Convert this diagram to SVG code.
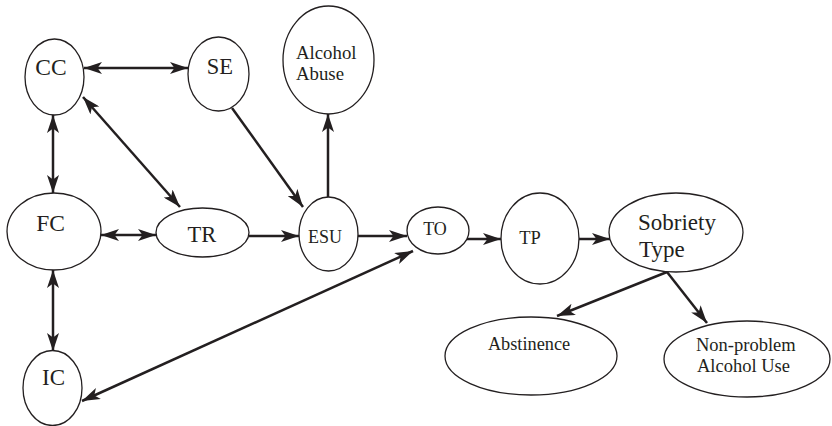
<svg xmlns="http://www.w3.org/2000/svg" width="832" height="426" viewBox="0 0 832 426">
<style>
.n{fill:#fff;stroke:#231f20;stroke-width:1.3}
text{fill:#231f20}
.e{stroke:#231f20;stroke-width:2.5;fill:none;marker-end:url(#ah)}
.b{marker-start:url(#ah)}
</style>
<defs>
<marker id="ah" markerUnits="userSpaceOnUse" markerWidth="19" markerHeight="12" refX="18" refY="6" orient="auto-start-reverse" viewBox="0 0 19 12">
<path d="M0,0 L18,6 L0,12 L4.5,6 z" fill="#231f20"/>
</marker>
</defs>
<rect width="832" height="426" fill="#fff"/>
<g id="edges">
<line class="e b" x1="84" y1="68" x2="188" y2="68"/>
<line class="e b" x1="53" y1="115" x2="53" y2="193"/>
<line class="e b" x1="83" y1="97" x2="180" y2="207"/>
<line class="e" x1="232" y1="108" x2="303" y2="207"/>
<line class="e b" x1="101" y1="235" x2="156" y2="235"/>
<line class="e b" x1="53" y1="270" x2="53" y2="351"/>
<line class="e" x1="249" y1="236" x2="299" y2="236"/>
<line class="e" x1="328" y1="197" x2="328" y2="114"/>
<line class="e" x1="358" y1="236" x2="407" y2="236"/>
<line class="e b" x1="82" y1="401" x2="413" y2="251"/>
<line class="e" x1="467" y1="239" x2="501" y2="239"/>
<line class="e" x1="579" y1="239" x2="610" y2="239"/>
<line class="e" x1="667" y1="272" x2="557" y2="316"/>
<line class="e" x1="667" y1="272" x2="707" y2="323"/>
</g>
<g font-family="Liberation Serif, Times New Roman, DejaVu Serif, serif">
<g id="CC"><ellipse class="n" cx="54.5" cy="77" rx="29.5" ry="38"/><text x="51" y="75" font-size="23.5" text-anchor="middle">CC</text></g>
<g id="SE"><ellipse class="n" cx="218.5" cy="74" rx="30.5" ry="37"/><text x="220" y="74" font-size="22.5" text-anchor="middle">SE</text></g>
<g id="AlcoholAbuse"><ellipse class="n" cx="328.5" cy="60" rx="45.5" ry="54"/><text x="296" y="59" font-size="18.8">Alcohol</text><text x="296" y="80" font-size="18.8">Abuse</text></g>
<g id="FC"><ellipse class="n" cx="54" cy="231.5" rx="47" ry="38.5"/><text x="50.5" y="231" font-size="23.5" text-anchor="middle">FC</text></g>
<g id="TR"><ellipse class="n" cx="202.5" cy="232.5" rx="46.5" ry="24.5"/><text x="202" y="242" font-size="22.5" text-anchor="middle">TR</text></g>
<g id="ESU"><ellipse class="n" cx="328.5" cy="234" rx="29.5" ry="37"/><text x="325" y="243" font-size="18" text-anchor="middle">ESU</text></g>
<g id="TO"><ellipse class="n" cx="438" cy="230.5" rx="31" ry="23.5"/><text x="435" y="235" font-size="18" text-anchor="middle">TO</text></g>
<g id="TP"><ellipse class="n" cx="540" cy="238.5" rx="39" ry="45.5"/><text x="530" y="244" font-size="18.5" text-anchor="middle">TP</text></g>
<g id="SobrietyType"><ellipse class="n" cx="676" cy="232.5" rx="67" ry="39.5"/><text x="638" y="230" font-size="23">Sobriety</text><text x="639" y="257" font-size="23">Type</text></g>
<g id="IC"><ellipse class="n" cx="52.5" cy="388" rx="29.5" ry="37.5"/><text x="53.5" y="385" font-size="23" text-anchor="middle">IC</text></g>
<g id="Abstinence"><ellipse class="n" cx="531" cy="356" rx="86" ry="39"/><text x="529" y="350" font-size="18.3" text-anchor="middle">Abstinence</text></g>
<g id="NonProblem"><ellipse class="n" cx="747" cy="359" rx="83" ry="38"/><text x="696" y="351" font-size="18.5">Non-problem</text><text x="697" y="372" font-size="18.5">Alcohol Use</text></g>
</g>
</svg>
